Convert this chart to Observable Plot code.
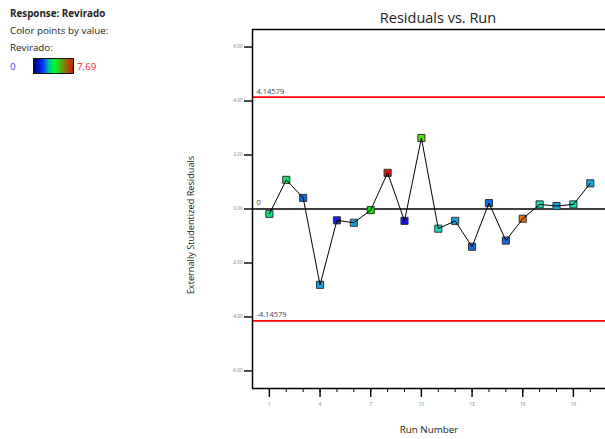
<!DOCTYPE html>
<html>
<head>
<meta charset="utf-8">
<script src="https://cdn.jsdelivr.net/npm/d3@7"></script>
<script src="https://cdn.jsdelivr.net/npm/@observablehq/plot@0.6"></script>
<style>
  html, body { margin: 0; padding: 0; background: #fff; }
  #wrap { position: relative; width: 605px; height: 439px; overflow: hidden; font-family: "Open Sans", sans-serif; }
  .lg { position: absolute; left: 10px; font-size: 9.8px; color: #222; white-space: nowrap; line-height: 1; }
  #title { position: absolute; top: 11px; left: 438px; transform: translateX(-50%); font-size: 14.5px; color: #222; white-space: nowrap; line-height: 1; }
  #grad { position: absolute; left: 33px; top: 58px; width: 39px; height: 14px; border: 1px solid #111;
          background: linear-gradient(to right, #000070 0%, #0030ff 22%, #00c0a0 38%, #00ff30 52%, #40c010 66%, #a06010 84%, #c02000 100%); }
  svg [aria-label="y-axis tick label"] text, svg [aria-label="x-axis tick label"] text { fill: #777; }
</style>
</head>
<body>
<div id="wrap">
  <div class="lg" style="top:9px;font-weight:bold;">Response: Revirado</div>
  <div class="lg" style="top:26px;">Color points by value:</div>
  <div class="lg" style="top:43px;">Revirado:</div>
  <div class="lg" style="top:62px;color:#3a3aff;">0</div>
  <div id="grad"></div>
  <div class="lg" style="top:62px;left:77px;color:#ff2020;">7.69</div>
  <div id="title">Residuals vs. Run</div>
</div>
<script>
// Run numbers
const runs = [1, 2, 3, 4, 5, 6, 7, 8, 9, 10, 11, 12, 13, 14, 15, 16, 17, 18, 19, 20];
// Externally studentized residuals
const residuals = [-0.18, 1.08, 0.41, -2.81, -0.42, -0.51, -0.04, 1.34, -0.44, 2.63,
                   -0.73, -0.44, -1.40, 0.22, -1.17, -0.36, 0.17, 0.11, 0.17, 0.95];
// Response (Revirado) values used to colour the points
const revirado = [2.88, 2.95, 0.83, 1.35, 0.12, 1.38, 3.85, 7.69, 0.0, 4.49,
                  2.24, 1.41, 0.83, 0.83, 0.83, 6.79, 2.40, 1.35, 2.40, 1.41];
const colorDomain = [0, 7.69];
// Limit lines
const limits = [4.14579, 0, -4.14579];
const limitLabels = ["4.14579", "0", "-4.14579"];
// Axis ticks
const yTicks = [-6, -4, -2, 0, 2, 4, 6];
const xMajorTicks = [1, 4, 7, 10, 13, 16, 19];
const xDomain = [0, 20.9];
const yDomain = [-6.65, 6.65];

const data = runs.map((r, i) => ({run: r, res: residuals[i], val: revirado[i]}));
const limitData = limits.map((v, i) => ({v, label: limitLabels[i]}));

const chart = Plot.plot({
  width: 605,
  height: 439,
  marginLeft: 252,
  marginRight: 0,
  marginTop: 29,
  marginBottom: 51,
  style: {fontFamily: "Open Sans, sans-serif", fontSize: "4.5px", background: "transparent", overflow: "visible"},
  x: {domain: xDomain, label: null},
  y: {domain: yDomain, label: null},
  color: {type: "linear", domain: colorDomain,
          interpolate: t => d3.hsl(240 * (1 - t), 0.85, 0.47).formatHex()},
  marks: [
    Plot.ruleY(limits.filter(v => v !== 0), {stroke: "#ff0000", strokeWidth: 1.6}),
    Plot.ruleY([0], {stroke: "#000", strokeWidth: 1.4}),
    Plot.ruleX([xDomain[0]], {stroke: "#000", strokeWidth: 1.5}),
    Plot.ruleY(yDomain, {stroke: "#000", strokeWidth: 1.5}),
    Plot.axisY({ticks: yTicks, tickSize: 8, tickPadding: 2, strokeWidth: 1.4, fontSize: 4.5,
                tickFormat: d => d.toFixed(2), label: null}),
    Plot.axisX({ticks: xMajorTicks, tickSize: 9, tickPadding: 5, strokeWidth: 1.4, fontSize: 4.5,
                tickFormat: d => String(d), label: null}),
    Plot.axisX({ticks: runs, tickSize: 4, strokeWidth: 1, tickFormat: () => "", label: null}),
    Plot.text(limitData, {y: "v", text: "label", frameAnchor: "left", textAnchor: "start",
                          dx: 4, dy: -6, fontSize: 7.5, fill: "#444"}),
    Plot.dot(data, {x: "run", y: "res", fill: "val", symbol: "square", r: 4,
                    stroke: "#333", strokeWidth: 1}),
    Plot.line(data, {x: "run", y: "res", stroke: "#000", strokeWidth: 1}),
    Plot.text(["Externally Studentized Residuals"], {frameAnchor: "left", textAnchor: "middle",
                          rotate: -90, dx: -61, dy: 16, fontSize: 9.2, fill: "#222"}),
    Plot.text(["Run Number"], {frameAnchor: "bottom", textAnchor: "middle", dy: 44, fontSize: 9.8, fill: "#222"})
  ]
});
chart.style.position = "absolute";
chart.style.left = "0px";
chart.style.top = "0px";
document.getElementById("wrap").appendChild(chart);
</script>
</body>
</html>
